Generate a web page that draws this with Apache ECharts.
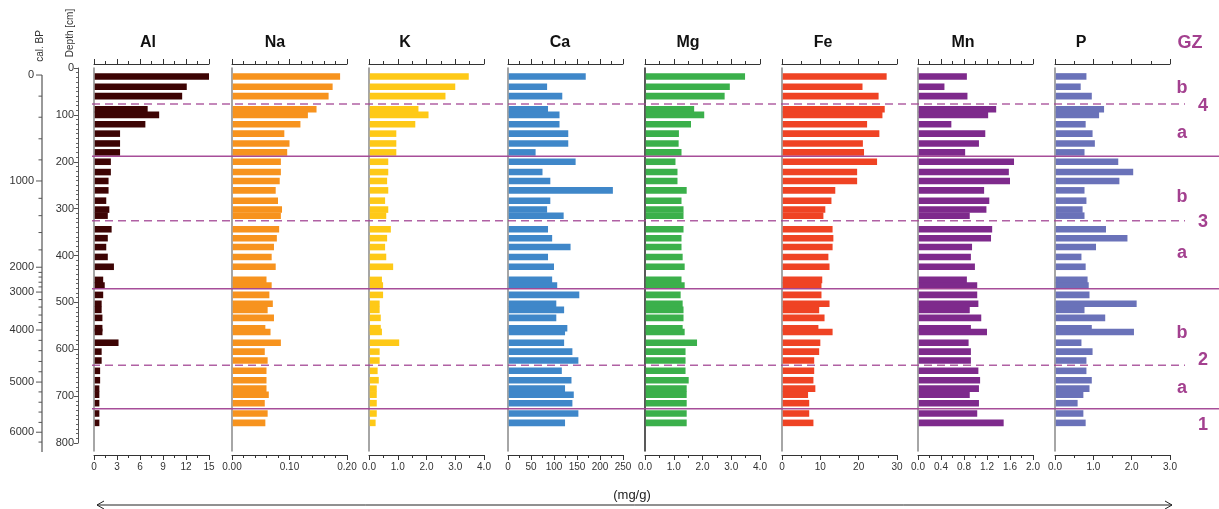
<!DOCTYPE html>
<html><head><meta charset="utf-8">
<script src="https://cdn.jsdelivr.net/npm/echarts/dist/echarts.min.js"></script>
<style>html,body{margin:0;padding:0;background:#fff}#c{width:1219px;height:509px}</style>
</head><body><div id="c"></div>
<script>
// ---------- DATA ----------
const depths = [18,40,60,88,100,120,140,161,180,200,222,241,261,283,302,315,344,363,382,403,424,452,464,484,503,516,533,555,563,586,605,624,646,666,684,697,715,737,757];
const Al = [15.0,12.1,11.5,7.0,8.5,6.7,3.4,3.4,3.4,2.2,2.2,1.9,1.9,1.6,2.0,1.8,2.3,1.8,1.6,1.8,2.6,1.2,1.4,1.2,1.0,1.0,1.1,1.1,1.1,3.2,1.0,1.0,0.8,0.8,0.7,0.7,0.7,0.7,0.7];
const Na = [0.188,0.175,0.168,0.147,0.132,0.119,0.091,0.100,0.096,0.085,0.085,0.083,0.076,0.080,0.087,0.085,0.082,0.078,0.073,0.069,0.076,0.060,0.069,0.065,0.071,0.062,0.073,0.058,0.067,0.085,0.057,0.062,0.060,0.060,0.060,0.064,0.057,0.062,0.058];
const K = [3.47,3.0,2.66,1.72,2.07,1.61,0.95,0.95,0.95,0.67,0.67,0.63,0.67,0.56,0.67,0.6,0.76,0.63,0.56,0.6,0.84,0.45,0.49,0.49,0.37,0.37,0.41,0.41,0.45,1.05,0.37,0.37,0.3,0.34,0.27,0.27,0.27,0.27,0.23];
const Ca = [169,85,118,87,112,112,131,131,60,147,75,92,228,92,85,121,87,96,136,87,100,96,107,155,105,122,105,129,124,122,140,153,117,138,124,143,140,153,124];
const Mg = [3.48,2.95,2.77,1.71,2.06,1.6,1.18,1.17,1.27,1.06,1.13,1.13,1.45,1.27,1.34,1.34,1.34,1.27,1.27,1.31,1.38,1.27,1.38,1.24,1.31,1.34,1.34,1.31,1.38,1.81,1.41,1.41,1.41,1.52,1.45,1.45,1.45,1.45,1.45];
const Fe = [27.3,21.0,25.2,26.8,26.2,22.2,25.4,21.1,21.4,24.8,19.6,19.6,13.9,12.9,11.3,10.8,13.2,13.4,13.2,12.1,12.4,10.5,10.3,10.3,12.4,9.7,11.1,9.5,13.2,10.0,9.7,8.4,8.4,8.2,8.7,6.8,7.1,7.1,8.2];
const Mn = [0.85,0.46,0.86,1.36,1.22,0.58,1.17,1.06,0.82,1.67,1.58,1.6,1.15,1.24,1.19,0.9,1.29,1.27,0.94,0.92,0.99,0.85,1.03,1.03,1.05,0.9,1.1,0.92,1.2,0.88,0.92,0.92,1.05,1.08,1.06,0.9,1.06,1.03,1.49];
const P = [0.82,0.67,0.96,1.28,1.15,0.8,0.98,1.04,0.77,1.65,2.04,1.68,0.77,0.82,0.72,0.77,1.33,1.89,1.07,0.69,0.8,0.85,0.88,0.9,2.13,0.77,1.31,0.96,2.06,0.69,0.98,0.82,0.82,0.96,0.9,0.74,0.59,0.74,0.8];

const panelNames = ['Al','Na','K','Ca','Mg','Fe','Mn','P'];
const panelMax = [15,0.2,4,250,4,30,2,3];
const panelInterval = [3,0.1,1,50,1,10,0.4,1];
const panelMinorSplit = [2,5,2,2,2,2,2,2];
const panelDecimals = [0,2,1,0,1,0,1,1];

const calAgeLabels = [0,1000,2000,3000,4000,5000,6000];
const calAgeDepths = [15,241,425,478,559,670,777];
const calMinorDepths = [60,105,151,196,278,315,351,388,436,446,457,467,494,510,527,543,581,603,626,648,691,713,734,756,798];

const zoneDepths = [77,188,326,471,634,727];
const zoneSolid = [false,true,false,true,false,true];
const zoneLabels = ['b','4','a','b','3','a','b','2','a','1'];
const zoneLabelDepths = [43,82,139,275,329,395,565,623,683,762];

// ---------- STYLE / LAYOUT ----------
const panelValues = [Al,Na,K,Ca,Mg,Fe,Mn,P];
const panelColors = ['#3d0404','#f7931e','#fec917','#3f87c9','#3bb04b','#ef4324','#7e2a8c','#6a72b9'];
const panelLeft = [94,232,369,508,645,782,918,1055];
const titleX = [148,275,405,560,688,823,963,1081];
const PW = 115, TOP = 68, PH = 383, YMAX = 817;
const zoneColor = '#a24594';
const FONT = 'Arial, "Liberation Sans", sans-serif';

const grids = [], xAxes = [], yAxes = [], series = [];

// cal BP axis grid (0)
grids.push({left:42, top:TOP, width:1, height:375});
xAxes.push({gridIndex:0, type:'value', min:0, max:1, show:false});
yAxes.push({gridIndex:0, type:'value', min:0, max:800, inverse:true, show:false});
// depth axis grid (1)
grids.push({left:78, top:TOP, width:1, height:375});
xAxes.push({gridIndex:1, type:'value', min:0, max:1, show:false});
yAxes.push({gridIndex:1, type:'value', min:0, max:800, interval:100, inverse:true,
  axisLine:{show:true, lineStyle:{color:'#555', width:1}},
  axisTick:{show:true, length:4, lineStyle:{color:'#555'}},
  minorTick:{show:true, splitNumber:10, length:2, lineStyle:{color:'#666'}},
  axisLabel:{fontSize:11, color:'#333', margin:4, fontFamily:FONT},
  splitLine:{show:false}, minorSplitLine:{show:false}});

// cal BP ticks
const calItems = [];
calAgeDepths.forEach((d,i)=>calItems.push([0,d,1,i]));
calMinorDepths.forEach(d=>calItems.push([0,d,0,-1]));
series.push({type:'custom', xAxisIndex:0, yAxisIndex:0, clip:false, silent:true,
  data: calItems, encode:{x:0,y:1},
  renderItem:(params, api)=>{
    const d = api.value(1), major = api.value(2), li = api.value(3);
    const p = api.coord([0,d]);
    const len = major ? 6 : 3.5;
    const ch = [{type:'line', shape:{x1:p[0]-len,y1:p[1],x2:p[0],y2:p[1]}, style:{stroke:'#555', lineWidth:1}}];
    if (major) ch.push({type:'text', style:{text:String(calAgeLabels[li]), x:p[0]-8, y:p[1], align:'right', verticalAlign:'middle', fontSize:11, fontFamily:FONT, fill:'#333'}});
    if (params.dataIndex === 0) {
      const cs = params.coordSys;
      ch.push({type:'line', shape:{x1:p[0],y1:p[1],x2:p[0],y2:cs.y+cs.height+9}, style:{stroke:'#555', lineWidth:1.2}});
    }
    return {type:'group', children:ch};
  }});

// panels
panelNames.forEach((name,i)=>{
  const g = grids.length;
  grids.push({left:panelLeft[i], top:TOP, width:PW, height:PH});
  const dec = panelDecimals[i];
  const common = {gridIndex:g, type:'value', min:0, max:panelMax[i], interval:panelInterval[i],
    axisLine:{show:true, onZero:false, lineStyle:{color:'#333', width:1}},
    axisTick:{show:true, length:5, lineStyle:{color:'#333'}},
    minorTick:{show:true, splitNumber:panelMinorSplit[i], length:3, lineStyle:{color:'#333'}},
    splitLine:{show:false}, minorSplitLine:{show:false}};
  xAxes.push(Object.assign({}, common, {position:'top', offset:4, axisLabel:{show:false}}));
  const bx = xAxes.length;
  xAxes.push(Object.assign({}, common, {position:'bottom', offset:4,
    axisLabel:{show:true, fontSize:10, color:'#333', margin:7, fontFamily:FONT,
      formatter:v=>Number(v).toFixed(dec)}}));
  yAxes.push({gridIndex:g, type:'value', min:0, max:YMAX, inverse:true,
    axisLine:{show:true, onZero:true, lineStyle:{color: name==='Mg' ? '#222' : '#888', width:1.5}},
    axisTick:{show:false}, axisLabel:{show:false}, splitLine:{show:false}});
  const vals = panelValues[i], col = panelColors[i];
  series.push({type:'custom', name, xAxisIndex:bx, yAxisIndex:g, clip:false, silent:true, z:3,
    data: depths.map((d,k)=>[vals[k], d]), encode:{x:0,y:1},
    renderItem:(params, api)=>{
      const v = api.value(0), d = api.value(1);
      const a = api.coord([0, d-7]), b = api.coord([v, d+7]);
      return {type:'rect', shape:{x:a[0]+0.75, y:a[1], width:b[0]-a[0]-0.75, height:b[1]-a[1]}, style:{fill:col}};
    }});
});

// overlay grid for zones
const og = grids.length;
grids.push({left:92, top:TOP, right:0, height:PH});
xAxes.push({gridIndex:og, type:'value', min:0, max:1, show:false});
yAxes.push({gridIndex:og, type:'value', min:0, max:YMAX, inverse:true, show:false});
series.push({type:'custom', xAxisIndex:xAxes.length-1, yAxisIndex:og, clip:false, silent:true, z:10,
  data: zoneDepths.map((d,i)=>[0,d,zoneSolid[i]?1:0]), encode:{x:0,y:1},
  renderItem:(params, api)=>{
    const cs = params.coordSys;
    const p = api.coord([0, api.value(1)]);
    const solid = api.value(2) === 1;
    const x2 = solid ? cs.x + cs.width : cs.x + cs.width - 34;
    return {type:'line', shape:{x1:cs.x, y1:p[1], x2:x2, y2:p[1]},
      style:{stroke:zoneColor, lineWidth:1.5, opacity: solid ? 0.95 : 0.85, lineDash: solid ? null : [8,5]}};
  }});
series.push({type:'custom', xAxisIndex:xAxes.length-1, yAxisIndex:og, clip:false, silent:true, z:10,
  data: zoneLabelDepths.map((d,i)=>[0,d,i]), encode:{x:0,y:1},
  renderItem:(params, api)=>{
    const cs = params.coordSys;
    const p = api.coord([0, api.value(1)]);
    const t = zoneLabels[api.value(2)];
    const isNum = /\d/.test(t);
    const x = isNum ? cs.x + cs.width - 16 : cs.x + cs.width - 37;
    return {type:'text', style:{text:t, x:x, y:p[1], align:'center', verticalAlign:'middle',
      fontSize:18, fontWeight:'bold', fontFamily:FONT, fill:'#a3408f'}};
  }});

// graphic texts
const graphic = [];
panelNames.forEach((n,i)=>graphic.push({type:'text', x:titleX[i], y:43,
  style:{text:n, align:'center', verticalAlign:'middle', fontSize:16, fontWeight:'bold', fontFamily:FONT, fill:'#111'}}));
graphic.push({type:'text', x:1190, y:43, style:{text:'GZ', align:'center', verticalAlign:'middle', fontSize:18, fontWeight:'bold', fontFamily:FONT, fill:'#a3408f'}});
graphic.push({type:'text', x:40, y:46, rotation:Math.PI/2, style:{text:'cal. BP', align:'center', verticalAlign:'middle', fontSize:10, fontFamily:FONT, fill:'#333'}});
graphic.push({type:'text', x:70, y:33, rotation:Math.PI/2, style:{text:'Depth [cm]', align:'center', verticalAlign:'middle', fontSize:10, fontFamily:FONT, fill:'#333'}});
graphic.push({type:'text', x:632, y:495, style:{text:'(mg/g)', align:'center', verticalAlign:'middle', fontSize:13, fontFamily:FONT, fill:'#222'}});
graphic.push({type:'line', shape:{x1:97,y1:505,x2:1172,y2:505}, style:{stroke:'#222', lineWidth:1}});
graphic.push({type:'polyline', shape:{points:[[104,501],[97,505],[104,509]]}, style:{stroke:'#222', fill:null, lineWidth:1}});
graphic.push({type:'polyline', shape:{points:[[1165,501],[1172,505],[1165,509]]}, style:{stroke:'#222', fill:null, lineWidth:1}});

const chart = echarts.init(document.getElementById('c'));
chart.setOption({animation:false, backgroundColor:'#fff', grid:grids, xAxis:xAxes, yAxis:yAxes, series, graphic});
</script></body></html>
